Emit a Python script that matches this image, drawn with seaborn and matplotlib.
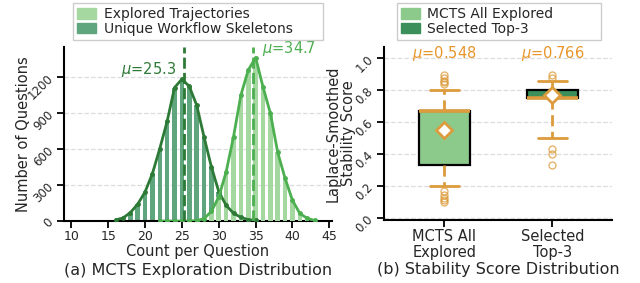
import matplotlib
matplotlib.use("Agg")
import matplotlib.pyplot as plt
from matplotlib.patches import Patch
import seaborn as sns

# ---- panel (a): histogram counts per question ----
skeleton_x = list(range(16, 36))
skeleton_counts = [10, 25, 70, 140, 242, 395, 603, 830, 1110, 1180,
                   1120, 964, 700, 450, 245, 130, 65, 30, 12, 5]
explored_x = list(range(22, 44))
explored_counts = [0, 0, 0, 0, 0, 3, 20, 80, 200, 408, 700,
                   1047, 1255, 1360, 1116, 897, 570, 355, 172, 63, 22, 5]
skeleton_mean = 25.3
explored_mean = 34.7

# ---- panel (b): stability score box stats ----
box_labels = ["MCTS All\nExplored", "Selected\nTop-3"]
box_q1 = [0.333, 0.750]
box_med = [0.667, 0.750]
box_q3 = [0.667, 0.800]
box_whislo = [0.200, 0.500]
box_whishi = [0.800, 0.857]
box_mean = [0.548, 0.766]
box_fliers = [
    [0.833, 0.846, 0.857, 0.875, 0.889, 0.111, 0.125, 0.143, 0.167, 0.100],
    [0.875, 0.889, 0.333, 0.400, 0.429],
]

DARK_BAR = "#5fa57d"
LIGHT_BAR = "#a5d7a0"
DARK_LINE = "#2d7a36"
LIGHT_LINE = "#4caf50"
ORANGE = "#dc9b3c"
ORANGE_TXT = "#e8962a"
BOX_LIGHT = "#8cca8c"
BOX_DARK = "#3a8f5a"

sns.set_theme(style="ticks")
plt.rcParams["font.family"] = ["DejaVu Sans"]

fig = plt.figure(figsize=(6.4, 2.83), dpi=100)
ax1 = fig.add_axes([0.100, 0.219, 0.418, 0.616])
ax2 = fig.add_axes([0.600, 0.222, 0.356, 0.613])


def add_legend(ax, handles, x0, x1):
    # legend box spans a fixed figure-width strip above each panel
    ax.legend(handles=handles, loc="upper left", mode="expand",
              bbox_to_anchor=(x0, 0.875, x1 - x0, 0.114),
              bbox_transform=fig.transFigure, borderaxespad=0,
              fontsize=10, fancybox=False, edgecolor="#cccccc", framealpha=1,
              handlelength=1.35, handleheight=0.75, handletextpad=0.55,
              borderpad=0.3, labelspacing=0.05)


# ---------- (a) ----------
sns.histplot(x=skeleton_x, weights=skeleton_counts, discrete=True, shrink=0.62,
             color=DARK_BAR, alpha=1, edgecolor="none", ax=ax1, zorder=2)
sns.histplot(x=explored_x, weights=explored_counts, discrete=True, shrink=0.62,
             color=LIGHT_BAR, alpha=1, edgecolor="none", ax=ax1, zorder=3)
sns.lineplot(x=skeleton_x, y=skeleton_counts, color=DARK_LINE, lw=2,
             marker="o", markersize=3.5, markeredgewidth=0, ax=ax1, zorder=5)
sns.lineplot(x=explored_x, y=explored_counts, color=LIGHT_LINE, lw=2,
             marker="o", markersize=3.5, markeredgewidth=0, ax=ax1, zorder=5)
ax1.axvline(skeleton_mean, color=DARK_LINE, lw=2, ls=(0, (4, 1.5)), zorder=6)
ax1.axvline(explored_mean, color=LIGHT_LINE, lw=2, ls=(0, (4, 1.5)), zorder=6)
ax1.text(skeleton_mean - 1.1, max(skeleton_counts), f"$\\mu$={skeleton_mean}",
         color=DARK_LINE, fontsize=10.5, ha="right", va="bottom")
ax1.text(explored_mean + 1.1, max(explored_counts), f"$\\mu$={explored_mean}",
         color=LIGHT_LINE, fontsize=10.5, ha="left", va="bottom")

ax1.set_xlim(9, 45.3)
ax1.set_ylim(0, 1450)
ax1.set_xticks(range(10, 46, 5))
ax1.set_yticks([0, 300, 600, 900, 1200])
ax1.set_xlabel("Count per Question", fontsize=10.5, labelpad=1)
ax1.set_ylabel("Number of Questions", fontsize=10.5)
ax1.yaxis.set_label_coords(-0.122, 0.5)
ax1.grid(axis="y", ls="--", color="#dddddd", lw=0.9, zorder=0)
ax1.set_axisbelow(True)
ax1.text(0.5, -0.285, "(a) MCTS Exploration Distribution", transform=ax1.transAxes,
         ha="center", va="center", fontsize=11.5)
add_legend(ax1, [Patch(color=LIGHT_BAR, label="Explored Trajectories"),
                 Patch(color=DARK_BAR, label="Unique Workflow Skeletons")],
           0.114, 0.505)

# ---------- (b) ----------
stats = []
for i in range(len(box_labels)):
    stats.append(dict(label=box_labels[i], q1=box_q1[i], med=box_med[i], q3=box_q3[i],
                      whislo=box_whislo[i], whishi=box_whishi[i], mean=box_mean[i],
                      fliers=box_fliers[i]))
bp = ax2.bxp(stats, positions=[0, 1], widths=0.47, capwidths=0.27, patch_artist=True,
             showmeans=True,
             boxprops=dict(edgecolor="black", linewidth=1.6),
             medianprops=dict(color=ORANGE, linewidth=2.6),
             whiskerprops=dict(color=ORANGE, linewidth=2, linestyle=(0, (4, 2))),
             capprops=dict(color=ORANGE, linewidth=2),
             flierprops=dict(marker="o", markerfacecolor="none", markeredgecolor=ORANGE,
                             markersize=5, markeredgewidth=1, alpha=0.75),
             meanprops=dict(marker="D", markerfacecolor="white", markeredgecolor=ORANGE,
                            markersize=8, markeredgewidth=2))
for patch, c in zip(bp["boxes"], [BOX_LIGHT, BOX_DARK]):
    patch.set_facecolor(c)
for m in bp["means"]:
    m.set_zorder(10)
for i, mval in enumerate(box_mean):
    ax2.text(i, 1.027, f"$\\mu$={mval:.3f}", color=ORANGE_TXT, fontsize=10.5,
             ha="center", va="center")

ax2.set_xlim(-0.56, 1.55)
ax2.set_ylim(-0.012, 1.068)
ax2.set_yticks([0.0, 0.2, 0.4, 0.6, 0.8, 1.0])
ax2.set_xticks([0, 1])
ax2.set_xticklabels(box_labels, fontsize=10.5, linespacing=1.05)
ax2.set_ylabel("Laplace-Smoothed\nStability Score", fontsize=10.5, linespacing=1.0)
ax2.yaxis.set_label_coords(-0.125, 0.5)
ax2.grid(axis="y", ls="--", color="#dddddd", lw=0.9, zorder=0)
ax2.set_axisbelow(True)
ax2.text(0.5, -0.285, "(b) Stability Score Distribution", transform=ax2.transAxes,
         ha="center", va="center", fontsize=11.5)
add_legend(ax2, [Patch(color=BOX_LIGHT, label="MCTS All Explored"),
                 Patch(color=BOX_DARK, label="Selected Top-3")],
           0.620, 0.939)

for ax in (ax1, ax2):
    sns.despine(ax=ax)
    for s in ("left", "bottom"):
        ax.spines[s].set_color("black")
        ax.spines[s].set_linewidth(1.5)
    ax.tick_params(axis="both", length=5, width=1.3, color="black", pad=1.5)
    ax.tick_params(axis="y", labelsize=8.5, labelrotation=45, pad=1)
ax1.tick_params(axis="x", labelsize=9)

fig.savefig("out.png", dpi=100)
